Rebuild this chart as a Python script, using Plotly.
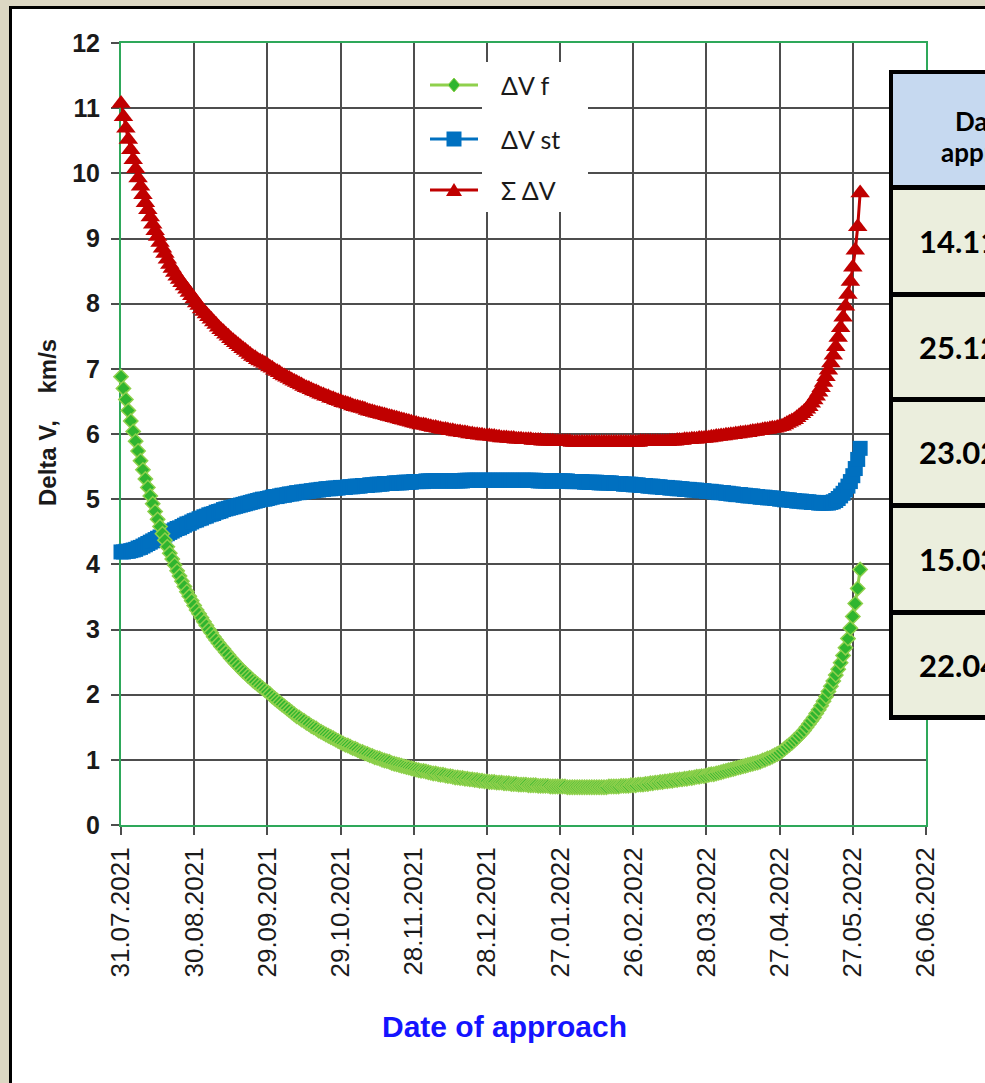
import pandas as pd
import plotly.graph_objects as go

# Daily values, first day 31.07.2021
START = "2021-07-31"

dv_f = [
    6.88, 6.70, 6.53, 6.36, 6.20, 6.04, 5.89, 5.74, 5.59, 5.45,
    5.31, 5.18, 5.05, 4.93, 4.81, 4.69, 4.58, 4.47, 4.37, 4.27,
    4.17, 4.08, 3.99, 3.90, 3.82, 3.74, 3.66, 3.58, 3.51, 3.44,
    3.37, 3.30, 3.24, 3.18, 3.12, 3.06, 3.00, 2.95, 2.89, 2.84,
    2.79, 2.74, 2.70, 2.65, 2.61, 2.56, 2.52, 2.48, 2.44, 2.40,
    2.36, 2.33, 2.29, 2.26, 2.22, 2.19, 2.16, 2.13, 2.10, 2.07,
    2.04, 2.01, 1.97, 1.94, 1.91, 1.88, 1.85, 1.82, 1.79, 1.76,
    1.73, 1.70, 1.67, 1.65, 1.62, 1.60, 1.57, 1.55, 1.52, 1.50,
    1.48, 1.45, 1.43, 1.41, 1.39, 1.37, 1.35, 1.33, 1.31, 1.29,
    1.27, 1.25, 1.23, 1.22, 1.20, 1.18, 1.17, 1.15, 1.13, 1.12,
    1.10, 1.09, 1.07, 1.06, 1.04, 1.03, 1.02, 1.00, 0.99, 0.98,
    0.97, 0.95, 0.94, 0.93, 0.92, 0.91, 0.90, 0.89, 0.88, 0.87,
    0.86, 0.85, 0.84, 0.83, 0.83, 0.82, 0.81, 0.80, 0.79, 0.79,
    0.78, 0.77, 0.77, 0.76, 0.75, 0.75, 0.74, 0.73, 0.73, 0.72,
    0.72, 0.71, 0.71, 0.70, 0.70, 0.69, 0.69, 0.68, 0.68, 0.67,
    0.67, 0.66, 0.66, 0.66, 0.65, 0.65, 0.65, 0.64, 0.64, 0.64,
    0.63, 0.63, 0.63, 0.62, 0.62, 0.62, 0.62, 0.61, 0.61, 0.61,
    0.61, 0.60, 0.60, 0.60, 0.60, 0.60, 0.59, 0.59, 0.59, 0.59,
    0.59, 0.59, 0.59, 0.58, 0.58, 0.58, 0.58, 0.58, 0.58, 0.58,
    0.58, 0.58, 0.58, 0.58, 0.58, 0.58, 0.58, 0.58, 0.58, 0.58,
    0.59, 0.59, 0.59, 0.59, 0.59, 0.60, 0.60, 0.60, 0.60, 0.61,
    0.61, 0.61, 0.62, 0.62, 0.62, 0.63, 0.63, 0.64, 0.64, 0.65,
    0.65, 0.66, 0.66, 0.67, 0.67, 0.68, 0.68, 0.69, 0.69, 0.70,
    0.70, 0.71, 0.71, 0.72, 0.72, 0.73, 0.74, 0.74, 0.75, 0.75,
    0.76, 0.77, 0.78, 0.78, 0.79, 0.80, 0.81, 0.82, 0.83, 0.84,
    0.85, 0.86, 0.87, 0.88, 0.89, 0.90, 0.91, 0.92, 0.93, 0.94,
    0.95, 0.96, 0.97, 0.99, 1.00, 1.02, 1.03, 1.05, 1.07, 1.09,
    1.11, 1.14, 1.17, 1.20, 1.23, 1.26, 1.30, 1.33, 1.37, 1.41,
    1.45, 1.50, 1.55, 1.60, 1.65, 1.71, 1.77, 1.83, 1.90, 1.97,
    2.05, 2.13, 2.21, 2.30, 2.39, 2.49, 2.60, 2.72, 2.86, 3.02,
    3.20, 3.40, 3.63, 3.92,
]

dv_st = [
    4.19, 4.19, 4.20, 4.20, 4.21, 4.22, 4.23, 4.25, 4.26, 4.28,
    4.30, 4.32, 4.34, 4.36, 4.38, 4.40, 4.42, 4.44, 4.45, 4.47,
    4.49, 4.51, 4.53, 4.55, 4.56, 4.58, 4.60, 4.62, 4.63, 4.65,
    4.67, 4.68, 4.70, 4.71, 4.73, 4.74, 4.76, 4.77, 4.78, 4.80,
    4.81, 4.82, 4.84, 4.85, 4.86, 4.87, 4.88, 4.89, 4.90, 4.91,
    4.92, 4.93, 4.94, 4.95, 4.96, 4.97, 4.98, 4.99, 5.00, 5.00,
    5.01, 5.02, 5.03, 5.04, 5.04, 5.05, 5.06, 5.06, 5.07, 5.08,
    5.08, 5.09, 5.10, 5.10, 5.11, 5.11, 5.12, 5.12, 5.13, 5.13,
    5.14, 5.14, 5.15, 5.15, 5.16, 5.16, 5.16, 5.17, 5.17, 5.17,
    5.18, 5.18, 5.18, 5.19, 5.19, 5.19, 5.20, 5.20, 5.20, 5.21,
    5.21, 5.21, 5.22, 5.22, 5.22, 5.23, 5.23, 5.23, 5.24, 5.24,
    5.24, 5.24, 5.25, 5.25, 5.25, 5.25, 5.26, 5.26, 5.26, 5.26,
    5.27, 5.27, 5.27, 5.27, 5.27, 5.28, 5.28, 5.28, 5.28, 5.28,
    5.28, 5.28, 5.28, 5.28, 5.28, 5.28, 5.28, 5.28, 5.28, 5.28,
    5.28, 5.29, 5.29, 5.29, 5.29, 5.29, 5.29, 5.29, 5.29, 5.29,
    5.29, 5.29, 5.29, 5.29, 5.29, 5.29, 5.29, 5.29, 5.29, 5.29,
    5.29, 5.29, 5.29, 5.29, 5.29, 5.29, 5.29, 5.29, 5.29, 5.29,
    5.29, 5.28, 5.28, 5.28, 5.28, 5.28, 5.28, 5.28, 5.28, 5.28,
    5.28, 5.28, 5.28, 5.28, 5.27, 5.27, 5.27, 5.27, 5.27, 5.27,
    5.26, 5.26, 5.26, 5.26, 5.26, 5.26, 5.25, 5.25, 5.25, 5.25,
    5.25, 5.25, 5.24, 5.24, 5.24, 5.24, 5.23, 5.23, 5.23, 5.23,
    5.22, 5.22, 5.22, 5.21, 5.21, 5.21, 5.20, 5.20, 5.20, 5.19,
    5.19, 5.19, 5.18, 5.18, 5.18, 5.17, 5.17, 5.17, 5.16, 5.16,
    5.16, 5.15, 5.15, 5.15, 5.14, 5.14, 5.14, 5.13, 5.13, 5.13,
    5.12, 5.12, 5.12, 5.11, 5.11, 5.10, 5.10, 5.10, 5.09, 5.09,
    5.08, 5.08, 5.07, 5.07, 5.07, 5.06, 5.06, 5.05, 5.05, 5.05,
    5.04, 5.04, 5.03, 5.03, 5.03, 5.02, 5.02, 5.02, 5.01, 5.01,
    5.00, 5.00, 4.99, 4.99, 4.99, 4.98, 4.98, 4.97, 4.97, 4.97,
    4.96, 4.96, 4.96, 4.95, 4.95, 4.95, 4.94, 4.94, 4.94, 4.94,
    4.94, 4.95, 4.96, 4.98, 5.01, 5.05, 5.09, 5.14, 5.20, 5.27,
    5.36, 5.47, 5.61, 5.78,
]

dv_sum = [
    11.07, 10.87, 10.69, 10.52, 10.36, 10.21, 10.07, 9.93, 9.80, 9.67,
    9.55, 9.44, 9.33, 9.22, 9.12, 9.03, 8.94, 8.85, 8.77, 8.68,
    8.60, 8.54, 8.48, 8.42, 8.37, 8.32, 8.27, 8.22, 8.17, 8.12,
    8.07, 8.01, 7.97, 7.92, 7.88, 7.84, 7.80, 7.76, 7.72, 7.68,
    7.64, 7.60, 7.57, 7.53, 7.50, 7.46, 7.43, 7.40, 7.37, 7.34,
    7.31, 7.28, 7.25, 7.22, 7.19, 7.17, 7.14, 7.12, 7.10, 7.08,
    7.06, 7.03, 7.01, 6.98, 6.96, 6.94, 6.91, 6.89, 6.87, 6.85,
    6.83, 6.81, 6.79, 6.77, 6.75, 6.73, 6.71, 6.70, 6.68, 6.66,
    6.65, 6.63, 6.61, 6.60, 6.58, 6.57, 6.55, 6.54, 6.52, 6.51,
    6.50, 6.48, 6.47, 6.46, 6.45, 6.43, 6.42, 6.41, 6.40, 6.39,
    6.38, 6.36, 6.35, 6.34, 6.33, 6.32, 6.31, 6.30, 6.29, 6.28,
    6.27, 6.26, 6.25, 6.24, 6.23, 6.22, 6.21, 6.20, 6.19, 6.18,
    6.17, 6.16, 6.15, 6.14, 6.14, 6.13, 6.12, 6.11, 6.10, 6.10,
    6.09, 6.08, 6.07, 6.07, 6.06, 6.05, 6.05, 6.04, 6.03, 6.03,
    6.02, 6.02, 6.01, 6.00, 6.00, 5.99, 5.99, 5.98, 5.98, 5.97,
    5.97, 5.97, 5.96, 5.96, 5.95, 5.95, 5.94, 5.94, 5.94, 5.93,
    5.93, 5.93, 5.92, 5.92, 5.92, 5.91, 5.91, 5.91, 5.91, 5.90,
    5.90, 5.90, 5.90, 5.89, 5.89, 5.89, 5.89, 5.89, 5.88, 5.88,
    5.88, 5.88, 5.88, 5.88, 5.88, 5.87, 5.87, 5.87, 5.87, 5.87,
    5.87, 5.87, 5.87, 5.87, 5.87, 5.87, 5.87, 5.87, 5.87, 5.87,
    5.87, 5.87, 5.87, 5.87, 5.87, 5.87, 5.87, 5.87, 5.87, 5.87,
    5.87, 5.87, 5.87, 5.88, 5.88, 5.88, 5.88, 5.88, 5.88, 5.88,
    5.88, 5.88, 5.88, 5.88, 5.88, 5.89, 5.89, 5.89, 5.90, 5.90,
    5.90, 5.91, 5.91, 5.91, 5.92, 5.92, 5.92, 5.93, 5.93, 5.93,
    5.94, 5.94, 5.95, 5.95, 5.96, 5.96, 5.97, 5.97, 5.98, 5.98,
    5.99, 5.99, 6.00, 6.00, 6.01, 6.01, 6.02, 6.02, 6.03, 6.04,
    6.04, 6.05, 6.05, 6.06, 6.07, 6.07, 6.08, 6.09, 6.09, 6.10,
    6.11, 6.12, 6.14, 6.16, 6.18, 6.20, 6.22, 6.25, 6.28, 6.31,
    6.34, 6.38, 6.42, 6.47, 6.52, 6.58, 6.64, 6.71, 6.79, 6.88,
    6.98, 7.09, 7.21, 7.34, 7.48, 7.63, 7.79, 7.96, 8.14, 8.34,
    8.56, 8.82, 9.18, 9.70,
]

series_names = ["\u0394V f", "\u0394V st", "\u03a3 \u0394V"]
header_lines = ["Date of", "approach"]
table_dates = ["14.11.2021", "25.12.2021", "23.02.2022", "15.03.2022", "22.04.2022"]

# Figure geometry (pixels)
W, H = 985, 1083
PL, PR, PT, PB = 121, 926, 43, 825

GREEN_LINE = "#8fd04c"
GREEN_MARK = "#2fb52f"
BLUE = "#0070c0"
RED = "#c00000"
FRAME = "#2ea85a"
GRID = "#4d4d4d"


def px(x):
    return (x - PL) / (PR - PL)


def py(y):
    return (PB - y) / (PB - PT)


def days(values):
    return pd.date_range(START, periods=len(values), freq="D")


fig = go.Figure()

fig.add_trace(go.Scatter(
    x=days(dv_st), y=dv_st, mode="lines+markers", name=series_names[1],
    line=dict(color=BLUE, width=3),
    marker=dict(symbol="square", size=15, color=BLUE),
    cliponaxis=False,
))
fig.add_trace(go.Scatter(
    x=days(dv_f), y=dv_f, mode="lines+markers", name=series_names[0],
    line=dict(color=GREEN_LINE, width=3),
    marker=dict(symbol="diamond", size=11, color=GREEN_MARK,
                line=dict(color=GREEN_LINE, width=1.5)),
    cliponaxis=False,
))
fig.add_trace(go.Scatter(
    x=days(dv_sum), y=dv_sum, mode="lines+markers", name=series_names[2],
    line=dict(color=RED, width=3),
    marker=dict(symbol="triangle-up", size=17, color=RED),
    cliponaxis=False,
))

shapes = []


def rect(x0, y0, x1, y1, fill, layer="above"):
    shapes.append(dict(type="rect", xref="paper", yref="paper",
                       x0=px(x0), x1=px(x1), y0=py(y0), y1=py(y1),
                       fillcolor=fill, line=dict(width=0), layer=layer))


# outer frame: beige paper, black edge, white sheet
rect(9, 6, 1010, 1100, "black", "below")
rect(12, 9, 1010, 1100, "white", "below")

# legend backdrop behind the labels
rect(482, 62, 588, 212, "white")

# legend glyphs
leg_y = [85, 139, 190]
leg_col = [GREEN_LINE, BLUE, RED]
for yy, col in zip(leg_y, leg_col):
    shapes.append(dict(type="line", xref="paper", yref="paper",
                       x0=px(430), x1=px(478), y0=py(yy), y1=py(yy),
                       line=dict(color=col, width=3), layer="above"))
cx = 454
shapes.append(dict(type="path", xref="paper", yref="paper",
                   path=f"M {px(cx-6)},{py(85)} L {px(cx)},{py(78)} L {px(cx+6)},{py(85)} L {px(cx)},{py(92)} Z",
                   fillcolor=GREEN_MARK, line=dict(color=GREEN_LINE, width=1), layer="above"))
rect(cx - 7.5, 139 - 7.5, cx + 7.5, 139 + 7.5, BLUE)
shapes.append(dict(type="path", xref="paper", yref="paper",
                   path=f"M {px(cx-8)},{py(196)} L {px(cx+8)},{py(196)} L {px(cx)},{py(183)} Z",
                   fillcolor=RED, line=dict(width=0), layer="above"))

# table on the right
rect(889, 70, 1010, 720, "black")
rect(893, 74, 1010, 185, "#c6d9f0")
row_bounds = [(190, 292), (297, 397), (402, 503), (508, 610), (615, 715)]
for y0, y1 in row_bounds:
    rect(893, y0, 1010, y1, "#ebeedd")

annotations = []


def label(text, x, y, size, xanchor="left", color="#1a1a1a", family="Lato", bold=False, angle=0):
    annotations.append(dict(
        text=text, xref="paper", yref="paper", x=px(x), y=py(y),
        xanchor=xanchor, yanchor="middle", showarrow=False, textangle=angle,
        font=dict(size=size, color=color, family=family,
                  weight="bold" if bold else "normal"),
    ))


for name, yy in zip(series_names, leg_y):
    label(name, 499, yy, 25)

label(header_lines[0], 953, 121, 26, bold=True, color="black")
label(header_lines[1], 939, 152, 26, bold=True, color="black")
for d, (y0, y1) in zip(table_dates, row_bounds):
    label(d, 917, (y0 + y1) / 2, 31, bold=True, color="black")

label("Delta V,\u00a0\u00a0\u00a0\u00a0km/s", 47, 423, 24, xanchor="center",
      color="#1a1a1a", family="Liberation Sans", bold=True, angle=-90)
label("Date of approach", 504, 1026, 30, xanchor="center",
      color="#1414ff", family="Liberation Sans", bold=True)

fig.update_layout(
    width=W, height=H,
    margin=dict(l=PL, r=W - PR, t=PT, b=H - PB, pad=0),
    paper_bgcolor="#dcd7c3", plot_bgcolor="white",
    showlegend=False,
    font=dict(family="Liberation Sans", color="#1a1a1a"),
    shapes=shapes, annotations=annotations,
)

fig.update_xaxes(
    type="date",
    range=["2021-07-30 23:59:59", "2022-06-26 00:00:01"],
    tick0="2021-07-31", dtick=30 * 86400000, tickformat="%d.%m.%Y",
    tickangle=-90, ticks="outside", ticklen=8, tickwidth=1.5, tickcolor=GRID,
    showgrid=True, gridcolor=GRID, gridwidth=1.5,
    showline=True, linecolor=FRAME, linewidth=2, mirror=True,
    zeroline=False, layer="below traces", ticklabelstandoff=2,
    tickfont=dict(size=26, color="#1a1a1a"),
)
fig.update_yaxes(
    range=[0, 12], dtick=1,
    ticks="outside", ticklen=8, tickwidth=1.5, tickcolor=GRID,
    showgrid=True, gridcolor=GRID, gridwidth=1.5,
    showline=True, linecolor=FRAME, linewidth=2, mirror=True,
    zeroline=False, layer="below traces", ticklabelstandoff=6,
    tickfont=dict(size=25, color="#1a1a1a", weight="bold"),
)

fig.write_html("out.html")
